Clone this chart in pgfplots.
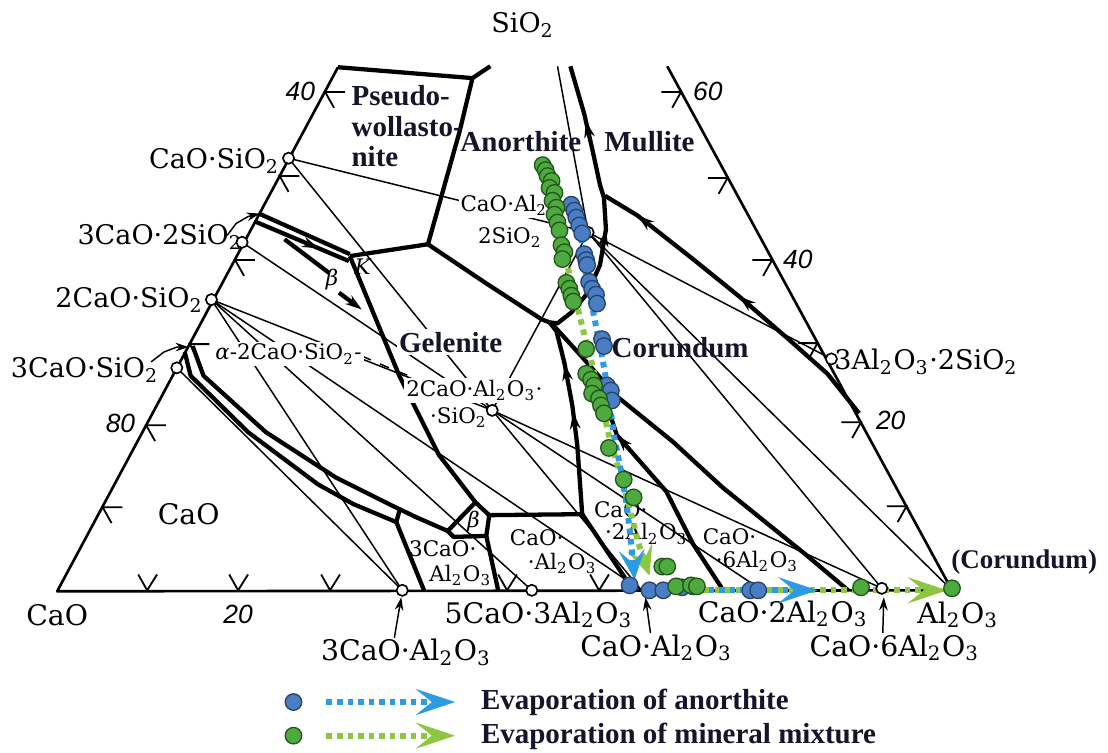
\documentclass[border=0pt]{standalone}
\usepackage{fontspec}
\setmainfont{DejaVu Serif}
\newfontfamily\blf{Liberation Serif}
\newfontfamily\tkf{Liberation Sans}
\usepackage{pgfplots}
\pgfplotsset{compat=1.18}
\usetikzlibrary{arrows.meta,decorations.markings}

\definecolor{bluept}{HTML}{4A7DC4}
\definecolor{bluedk}{HTML}{24446E}
\definecolor{greenpt}{HTML}{4EAA3E}
\definecolor{greendk}{HTML}{23561B}
\definecolor{blueln}{HTML}{2B9BE3}
\definecolor{greenln}{HTML}{8DC63F}
\definecolor{labcol}{HTML}{14142A}

\newcommand\Lb{\fontsize{8.2}{9}\selectfont}
\newcommand\Lc{\fontsize{8.6}{9.5}\selectfont}
\newcommand\Ls{\fontsize{6.5}{7.5}\selectfont}
\newcommand\Bf{\blf\bfseries\fontsize{8.8}{10}\selectfont\color{labcol}}
\newcommand\Tk{\tkf\itshape\fontsize{8}{9}\selectfont}
\newcommand\su[1]{\textsubscript{#1}}

\tikzset{
  arr/.style={postaction={decorate,decoration={markings,mark=at position #1 with {\arrow{Stealth[length=5pt,width=3.2pt]}}}}},
}
\pgfplotsset{
  edge/.style={black,line width=0.8pt,mark=none,line join=round},
  bd/.style={black,line width=1.3pt,mark=none,line join=round},
  tl/.style={black,line width=0.45pt,mark=none},
  tick/.style={black,line width=0.55pt,mark=none},
}

\begin{document}
\begin{tikzpicture}
\begin{axis}[
  width=332.4pt,height=228.3pt,scale only axis,
  xmin=0,xmax=1108,ymin=0,ymax=761,y dir=reverse,
  hide axis,clip=false,
  legend cell align=left,
  legend style={at={(axis cs:287,727)},anchor=west,draw=none,fill=none,
    inner sep=0pt,outer sep=0pt,row sep=2.2pt,font=\Bf,
    nodes={inner sep=0pt},
    /tikz/every odd column/.append style={column sep=7pt}},
]
\addlegendimage{legend image code/.code={
  \draw[blueln,line width=1.8pt,dash pattern=on 1.7pt off 1.5pt,
    -{Stealth[length=12pt,width=8pt,inset=5pt,line width=0.2pt]}] (10pt,0pt) -- (49pt,0pt);
  \draw[bluedk,fill=bluept,line width=0.4pt] (0pt,0pt) circle (2.5pt);}}
\addlegendentry{Evaporation of anorthite}
\addlegendimage{legend image code/.code={
  \draw[greenln,line width=1.8pt,dash pattern=on 1.7pt off 1.5pt,
    -{Stealth[length=12pt,width=8pt,inset=5pt,line width=0.2pt]}] (10pt,0pt) -- (49pt,0pt);
  \draw[greendk,fill=greenpt,line width=0.4pt] (0pt,0pt) circle (2.5pt);}}
\addlegendentry{Evaporation of mineral mixture}

\path (axis cs:0,0) rectangle (axis cs:1108,761);

% ---------- thin tie lines ----------
\addplot[tl] coordinates {(291,160) (497,415)};
\addplot[tl] coordinates {(291,160) (594,235)};
\addplot[tl] coordinates {(244,245) (497,415)};
\addplot[tl] coordinates {(213,303) (497,415)};
\addplot[tl] coordinates {(213,303) (648,597)};
\addplot[tl] coordinates {(213,303) (537,597)};
\addplot[tl] coordinates {(213,303) (406,597)};
\addplot[tl] coordinates {(178,372) (406,597)};
\addplot[tl] coordinates {(648,597) (497,415)};
\addplot[tl] coordinates {(770,597) (497,415)};
\addplot[tl] coordinates {(891,595) (497,415)};
\addplot[tl] coordinates {(891,595) (594,235)};
\addplot[tl] coordinates {(962,597) (594,235)};
\addplot[tl] coordinates {(840,363) (594,235)};
\addplot[tl] coordinates {(563,67) (594,235)};
\addplot[tl] coordinates {(594,235) (497,415)};

% ---------- triangle ----------
\addplot[edge] coordinates {(341,68) (57,598) (962,597) (674,67)};

% ---------- boundary curves ----------
\addplot[bd] coordinates {(341,68) (477,79) (495,67)};
\addplot[bd] coordinates {(477,79) (464,133) (432,247)};
\addplot[bd] coordinates {(432,247) (353,259)};
\addplot[bd] coordinates {(432,247) (490,286) (547,323) (555,326)};
\addplot[bd,arr=0.41,arr=0.8] coordinates {(555,326) (563,327) (577,316) (593,297) (606,268) (612,232) (610,200) (606,187) (598,150) (590,115) (576,67)};
\addplot[bd,arr=0.5,arr=0.886] coordinates {(868,418) (836,378) (800,346) (747,300) (700,262) (644,218) (611,198)};
\addplot[bd,arr=0.52,arr=0.77] coordinates {(588,520) (583,450) (578,410) (570,367) (562,335) (555,326)};
\addplot[bd] coordinates {(557,327) (587,360) (622,400) (680,447) (730,493) (813,560) (857,597)};
\addplot[bd,arr=0.757] coordinates {(730,596) (700,550) (673,497) (623,440) (604,382)};
\addplot[bd] coordinates {(353,259) (403,380) (443,460) (480,508)};
\addplot[bd] coordinates {(261,216) (353,257)};
\addplot[bd,arr=0.68] coordinates {(257,224) (352,264)};
\addplot[bd] coordinates {(287,242) (332,276)};
\addplot[bd,-{Stealth[length=5pt,width=3.2pt]}] coordinates {(342,296) (365,313)};
\addplot[bd] coordinates {(194,350) (205,380) (268,437) (339,483) (393,510) (420,523) (452,537)};
\addplot[bd] coordinates {(186,356) (192,380) (250,437) (321,490) (357,510) (400,528)};
\addplot[bd] coordinates {(403,517) (400,528) (428,597)};
\addplot[bd] coordinates {(452,537) (480,508) (494,521) (491,542) (458,543) (452,537)};
\addplot[bd] coordinates {(494,521) (588,520)};
\addplot[bd] coordinates {(491,542) (503,597)};
\addplot[bd] coordinates {(588,520) (633,587) (640,597)};

% ---------- small leader arrows ----------
\addplot[tl,-{Stealth[length=4pt,width=2.6pt]}] coordinates {(229,238) (238,226) (250,219) (262,216)};
\addplot[tl,-{Stealth[length=4pt,width=2.6pt]}] coordinates {(152,366) (165,356) (178,351) (190,351)};
\addplot[tl,-{Stealth[length=4pt,width=2.6pt]}] coordinates {(398,645) (405,604)};
\addplot[tl,-{Stealth[length=4pt,width=2.6pt]}] coordinates {(657,640) (652,604)};
\addplot[tl,-{Stealth[length=4pt,width=2.6pt]}] coordinates {(892,640) (893,604)};
\addplot[tl,dashed] coordinates {(365,360) (395,373) (420,383)};

% ---------- edge ticks ----------
\addplot[tick] coordinates {(348,93) (328,93) (337,109)};
\addplot[tick] coordinates {(302,178) (282,178) (291,194)};
\addplot[tick] coordinates {(257,263) (237,263) (246,279)};
\addplot[tick] coordinates {(211,348) (191,348) (200,364)};
\addplot[tick] coordinates {(167,430) (147,430) (156,446)};
\addplot[tick] coordinates {(123,513) (103,513) (112,529)};
\addplot[tick] coordinates {(668,93) (688,93) (679,109)};
\addplot[tick] coordinates {(715,180) (735,180) (726,196)};
\addplot[tick] coordinates {(760,263) (780,263) (771,279)};
\addplot[tick] coordinates {(806,347) (826,347) (817,363)};
\addplot[tick] coordinates {(850,427) (870,427) (861,443)};
\addplot[tick] coordinates {(896,512) (916,512) (907,528)};
\addplot[tick] coordinates {(139,581) (148,597) (158,581)};
\addplot[tick] coordinates {(231,581) (240,597) (250,581)};
\addplot[tick] coordinates {(324,581) (333,597) (343,581)};
\addplot[tick] coordinates {(503,581) (512,597) (522,581)};
\addplot[tick] coordinates {(596,581) (605,597) (615,581)};

% ---------- compound points ----------
\addplot[only marks,mark=*,mark size=1.7pt,mark options={fill=white,draw=black,line width=0.5pt}]
 coordinates {(291,160) (244,245) (213,303) (178,372) (406,597) (537,597) (594,235) (497,415) (840,363) (891,595)};

% ---------- labels ----------
\node[font=\Lb] at (axis cs:528,25) {SiO\su{2}};
\node[font=\Lb] at (axis cs:216,163) {CaO·SiO\su{2}};
\node[font=\Lb] at (axis cs:161,240) {3CaO·2SiO\su{2}};
\node[font=\Lb] at (axis cs:130,303) {2CaO·SiO\su{2}};
\node[font=\Lb] at (axis cs:85,374) {3CaO·SiO\su{2}};
\node[font=\Lc] at (axis cs:57,622) {CaO};
\node[font=\Lc] at (axis cs:190,520) {CaO};
\node[font=\Lc] at (axis cs:410,660) {3CaO·Al\su{2}O\su{3}};
\node[font=\Lc] at (axis cs:544,622) {5CaO·3Al\su{2}O\su{3}};
\node[font=\Lc] at (axis cs:663,655) {CaO·Al\su{2}O\su{3}};
\node[font=\Lc] at (axis cs:791,621) {CaO·2Al\su{2}O\su{3}};
\node[font=\Lc] at (axis cs:904,655) {CaO·6Al\su{2}O\su{3}};
\node[font=\Lc] at (axis cs:968,622) {Al\su{2}O\su{3}};
\node[font=\Lb] at (axis cs:936,366) {3Al\su{2}O\su{3}·2SiO\su{2}};

\node[font=\Ls,fill=white,inner sep=0.6pt] at (axis cs:291,358) {\textit{α}-2CaO·SiO\su{2}-};
\node[font=\Ls,fill=white,inner sep=0.6pt] at (axis cs:479,395) {2CaO·Al\su{2}O\su{3}·};
\node[font=\Ls] at (axis cs:463,422) {·SiO\su{2}};
\node[font=\Ls,fill=white,inner sep=0.6pt] at (axis cs:509,208) {CaO·Al\su{2}};
\node[font=\Ls] at (axis cs:515,240) {2SiO\su{2}};
\node[font=\Ls] at (axis cs:447,555) {3CaO·};
\node[font=\Ls] at (axis cs:465,582) {Al\su{2}O\su{3}};
\node[font=\Ls] at (axis cs:542,544) {CaO·};
\node[font=\Ls] at (axis cs:568,570) {·Al\su{2}O\su{3}};
\node[font=\Ls] at (axis cs:627,515) {CaO·};
\node[font=\Ls] at (axis cs:653,540) {·2Al\su{2}O\su{3}};
\node[font=\Ls] at (axis cs:737,543) {CaO·};
\node[font=\Ls] at (axis cs:765,568) {·6Al\su{2}O\su{3}};
\node[font=\Ls\itshape] at (axis cs:366,270) {K};
\node[font=\Ls\itshape] at (axis cs:335,283) {β};
\node[font=\Ls\itshape] at (axis cs:478,527) {β};

\node[font=\Bf,anchor=west] at (axis cs:343,97) {Pseudo-};
\node[font=\Bf,anchor=west] at (axis cs:343,128) {wollasto-};
\node[font=\Bf,anchor=west] at (axis cs:343,158) {nite};
\node[font=\Bf] at (axis cs:526,143) {Anorthite};
\node[font=\Bf] at (axis cs:656,143) {Mullite};
\node[font=\Bf,fill=white,inner sep=0.8pt] at (axis cs:455,346) {Gelenite};
\node[font=\Bf] at (axis cs:687,352) {Corundum};
\node[font=\Bf\fontsize{8.2}{9}\selectfont] at (axis cs:1035,568) {(Corundum)};

\node[font=\Tk] at (axis cs:303,92) {40};
\node[font=\Tk] at (axis cs:121,428) {80};
\node[font=\Tk] at (axis cs:240,621) {20};
\node[font=\Tk] at (axis cs:715,92) {60};
\node[font=\Tk] at (axis cs:806,262) {40};
\node[font=\Tk] at (axis cs:900,425) {20};

% ---------- evaporation paths ----------
\addplot[greenln,line width=1.8pt,dash pattern=on 1.7pt off 1.5pt,mark=none,
  -{Stealth[length=12pt,width=8pt,inset=5pt,line width=0.2pt]}]
  coordinates {(690,597) (957,597)};
\addplot[blueln,line width=1.8pt,dash pattern=on 1.7pt off 1.5pt,mark=none,
  -{Stealth[length=12pt,width=8pt,inset=5pt,line width=0.2pt]}]
  coordinates {(652,597) (826,597)};
\addplot[greenln,line width=1.8pt,dash pattern=on 1.7pt off 1.5pt,mark=none,
  -{Stealth[length=9pt,width=8pt,inset=4pt,line width=0.2pt]}]
  coordinates {(566,240) (575,277) (588,330) (597,365) (607,405) (615,440) (625,475) (635,510) (645,550) (656,582)};
\addplot[blueln,line width=1.8pt,dash pattern=on 1.7pt off 1.5pt,mark=none,
  -{Stealth[length=9pt,width=8pt,inset=4pt,line width=0.2pt]}]
  coordinates {(587,240) (592,280) (600,320) (608,360) (615,400) (620,440) (627,475) (633,510) (637,545) (641,586)};

% ---------- measured compositions ----------
\addplot[only marks,mark=*,mark size=2.5pt,mark options={fill=bluept,draw=bluedk,line width=0.4pt}]
 coordinates {(577,207) (580,213) (582,220) (585,228) (588,236) (590,257) (592,263) (593,268)
  (595,285) (598,292) (602,298) (603,307) (608,343) (610,350) (613,390) (617,395) (618,405)
  (636,592) (656,597) (670,597) (689,594) (700,593) (758,597) (766,597)};
\addplot[only marks,mark=*,mark size=2.5pt,mark options={fill=greenpt,draw=greendk,line width=0.4pt}]
 coordinates {(548,167) (551,172) (553,178) (557,183) (555,190) (560,195) (558,203) (562,210)
  (560,217) (563,225) (565,233) (567,248) (570,255) (568,262) (572,286) (575,292) (577,299)
  (579,305) (592,353) (592,378) (597,384) (600,390) (598,398) (605,403) (607,410) (610,418)
  (615,453) (630,485) (640,503) (669,573) (674,573) (683,593) (698,592) (704,593) (870,594) (962,595)};
\end{axis}
\end{tikzpicture}
\end{document}
